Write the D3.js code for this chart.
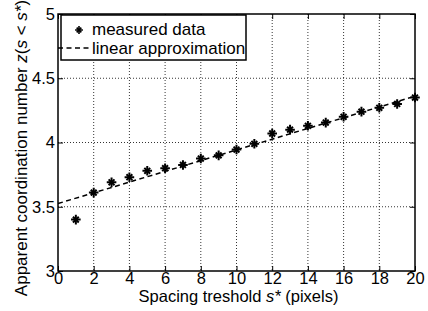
<!DOCTYPE html>
<html>
<head>
<meta charset="utf-8">
<script src="https://cdn.jsdelivr.net/npm/d3@7"></script>
<style>
body { margin: 0; background: #fff; }
svg { font-family: "Liberation Sans", Arial, sans-serif; }
</style>
</head>
<body>
<div id="chart"></div>
<script>
// measured points
const spacing = [1,2,3,4,5,6,7,8,9,10,11,12,13,14,15,16,17,18,19,20]
const coordNum = [3.40,3.61,3.69,3.73,3.78,3.80,3.825,3.875,3.90,3.945,3.99,4.07,4.10,4.13,4.155,4.20,4.24,4.27,4.30,4.35]
// linear fit endpoints
const fitX = [0, 20]
const fitY = [3.525, 4.36]
const xTicks = [0,2,4,6,8,10,12,14,16,18,20]
const yTicks = [3,3.5,4,4.5,5]

const margin = {top: 14, right: 13, bottom: 40, left: 58},
    width = 428 - margin.left - margin.right,
    height = 311 - margin.top - margin.bottom;

const svg = d3.select("#chart").append("svg").attr("width", 428).attr("height", 311)
  .append("g").attr("transform", `translate(${margin.left},${margin.top})`);

const x = d3.scaleLinear().domain([0,20]).range([0,width]);
const y = d3.scaleLinear().domain([3,5]).range([height,0]);

// grid
svg.append("g").selectAll("line").data(xTicks.slice(1,-1)).join("line")
  .attr("x1", d => x(d)).attr("x2", d => x(d)).attr("y1", 0).attr("y2", height)
  .attr("stroke", "#000").attr("stroke-width", 0.8).attr("stroke-dasharray", "1,2");
svg.append("g").selectAll("line").data(yTicks.slice(1,-1)).join("line")
  .attr("y1", d => y(d)).attr("y2", d => y(d)).attr("x1", 0).attr("x2", width)
  .attr("stroke", "#000").attr("stroke-width", 0.8).attr("stroke-dasharray", "1,2");

// axes, ticks inward on all four sides
const fmt = d3.format("")
const bottom = svg.append("g").attr("transform", `translate(0,${height})`)
  .call(d3.axisBottom(x).tickValues(xTicks).tickSizeInner(-5).tickSizeOuter(0).tickPadding(1).tickFormat(fmt));
const left = svg.append("g")
  .call(d3.axisLeft(y).tickValues(yTicks).tickSizeInner(-5).tickSizeOuter(0).tickPadding(3).tickFormat(fmt));
svg.append("g").call(d3.axisTop(x).tickValues(xTicks).tickSizeInner(-5).tickSizeOuter(0).tickFormat(""));
svg.append("g").attr("transform", `translate(${width},0)`)
  .call(d3.axisRight(y).tickValues(yTicks).tickSizeInner(-5).tickSizeOuter(0).tickFormat(""));
svg.selectAll(".domain").remove();
svg.selectAll(".tick line").attr("stroke", "#000").attr("stroke-width", 1);
svg.selectAll(".tick text").attr("font-size", 16.5).attr("fill", "#000").attr("font-family", "Liberation Sans, Arial, sans-serif");

svg.append("rect").attr("width", width).attr("height", height)
  .attr("fill", "none").attr("stroke", "#000").attr("stroke-width", 1.5);

// fit line
const line = d3.line().x((d,i) => x(fitX[i])).y(d => y(d));
svg.append("path").datum(fitY).attr("d", line)
  .attr("fill", "none").attr("stroke", "#000").attr("stroke-width", 1.5).attr("stroke-dasharray", "5,3.5");

// markers (MATLAB style '*')
const plus = d3.symbol().type(d3.symbolPlus).size(32);
const times = d3.symbol().type(d3.symbolTimes).size(24);
const pts = svg.append("g").selectAll("g").data(spacing).join("g")
  .attr("transform", (d,i) => `translate(${x(d)},${y(coordNum[i])})`);
pts.append("path").attr("d", plus).attr("fill", "none").attr("stroke", "#000").attr("stroke-width", 2);
pts.append("path").attr("d", times).attr("fill", "none").attr("stroke", "#000").attr("stroke-width", 2);

// legend
const leg = svg.append("g").attr("transform", "translate(3,1)");
leg.append("rect").attr("width", 185).attr("height", 45).attr("fill", "#fff").attr("stroke", "#000").attr("stroke-width", 1.5);
const lm = leg.append("g").attr("transform", "translate(18,15)");
lm.append("path").attr("d", d3.symbol().type(d3.symbolPlus).size(22)).attr("fill","none").attr("stroke","#000").attr("stroke-width",1.6);
lm.append("path").attr("d", d3.symbol().type(d3.symbolTimes).size(16)).attr("fill","none").attr("stroke","#000").attr("stroke-width",1.6);
leg.append("text").attr("x", 31).attr("y", 20).attr("font-size", 17).text("measured data");
leg.append("line").attr("x1", -3).attr("x2", 29).attr("y1", 33).attr("y2", 33)
  .attr("stroke", "#000").attr("stroke-width", 1.5).attr("stroke-dasharray", "5,3.5");
leg.append("text").attr("x", 31).attr("y", 39).attr("font-size", 17).text("linear approximation");

// axis labels
const xl = svg.append("text").attr("x", width/2 + 2).attr("y", height + 31).attr("text-anchor", "middle").attr("font-size", 16.5);
xl.append("tspan").text("Spacing treshold ");
xl.append("tspan").attr("font-style", "italic").text("s*");
xl.append("tspan").text(" (pixels)");

const yl = svg.append("text").attr("transform", `translate(-31,134) rotate(-90)`)
  .attr("text-anchor", "middle").attr("font-size", 17);
yl.append("tspan").text("Apparent coordination number ");
yl.append("tspan").attr("font-style", "italic").text("z");
yl.append("tspan").text("(");
yl.append("tspan").attr("font-style", "italic").text("s");
yl.append("tspan").text(" < ");
yl.append("tspan").attr("font-style", "italic").text("s*");
yl.append("tspan").text(")");
</script>
</body>
</html>
